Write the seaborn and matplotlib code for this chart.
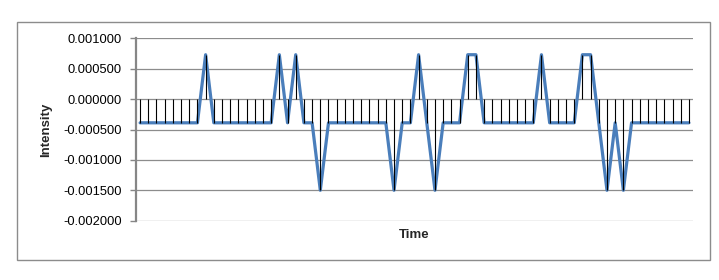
import matplotlib
matplotlib.use("Agg")
import matplotlib.pyplot as plt
import seaborn as sns
import pandas as pd
from matplotlib.patches import Rectangle

# Data
intensity = [
    -0.00039, -0.00039, -0.00039, -0.00039, -0.00039, -0.00039, -0.00039, -0.00039,  # 0-7
    0.00073,                                                                          # 8
    -0.00039, -0.00039, -0.00039, -0.00039, -0.00039, -0.00039, -0.00039, -0.00039,  # 9-16
    0.00073, -0.00039, 0.00073, -0.00039, -0.00039,                                   # 17-21
    -0.00150,                                                                         # 22
    -0.00039, -0.00039, -0.00039, -0.00039, -0.00039, -0.00039, -0.00039, -0.00039,  # 23-30
    -0.00150, -0.00039, -0.00039, 0.00073, -0.00039, -0.00150,                        # 31-36
    -0.00039, -0.00039, -0.00039, 0.00073, 0.00073,                                   # 37-41
    -0.00039, -0.00039, -0.00039, -0.00039, -0.00039, -0.00039, -0.00039,            # 42-48
    0.00073, -0.00039, -0.00039, -0.00039, -0.00039,                                  # 49-53
    0.00073, 0.00073, -0.00039, -0.00150, -0.00039, -0.00150,                         # 54-59
    -0.00039, -0.00039, -0.00039, -0.00039, -0.00039, -0.00039, -0.00039, -0.00039,  # 60-67
]
time_index = list(range(len(intensity)))
y_ticks = [0.001, 0.0005, 0.0, -0.0005, -0.001, -0.0015, -0.002]
x_label = "Time"
y_label = "Intensity"

df = pd.DataFrame({"Time": time_index, "Intensity": intensity})

sns.set_theme(style="white")
plt.rcParams["font.family"] = ["Liberation Sans", "DejaVu Sans"]

fig = plt.figure(figsize=(7.19, 2.80), dpi=100)
ax = fig.add_axes([136 / 719, 1 - 220.7 / 280, (693 - 136) / 719, (220.7 - 38.3) / 280])

sns.lineplot(data=df, x="Time", y="Intensity", ax=ax, color="#4A7EBB",
             linewidth=2.3, zorder=3, legend=False)
ax.vlines(df["Time"], 0, df["Intensity"], colors="black", linewidth=0.8, zorder=4)

ax.set_xlim(-0.5, len(intensity) - 0.5)
ax.set_ylim(-0.002, 0.001)
ax.set_yticks(y_ticks)
ax.set_yticklabels([f"{v:.6f}" for v in y_ticks], fontsize=9.3, color="black")
ax.set_xticks([])
ax.yaxis.grid(True, color="#8C8C8C", linewidth=0.9)
ax.set_axisbelow(True)

for side in ["top", "right", "bottom"]:
    ax.spines[side].set_visible(False)
ax.spines["left"].set_color("#868686")
ax.spines["left"].set_linewidth(1.6)
ax.tick_params(axis="y", direction="out", length=4, width=1, color="#868686",
               pad=6, left=True)

ax.set_xlabel(x_label, fontsize=9.5, fontweight="bold", labelpad=6)
ax.set_ylabel(y_label, fontsize=9.5, fontweight="bold", labelpad=8)

fig.patches.append(Rectangle((17 / 719, 1 - 260 / 280), (710 - 17) / 719, (260 - 22) / 280,
                             transform=fig.transFigure, fill=False,
                             edgecolor="#8C8C8C", linewidth=1.0, zorder=0))

fig.savefig("out.png", dpi=100, facecolor="white")
